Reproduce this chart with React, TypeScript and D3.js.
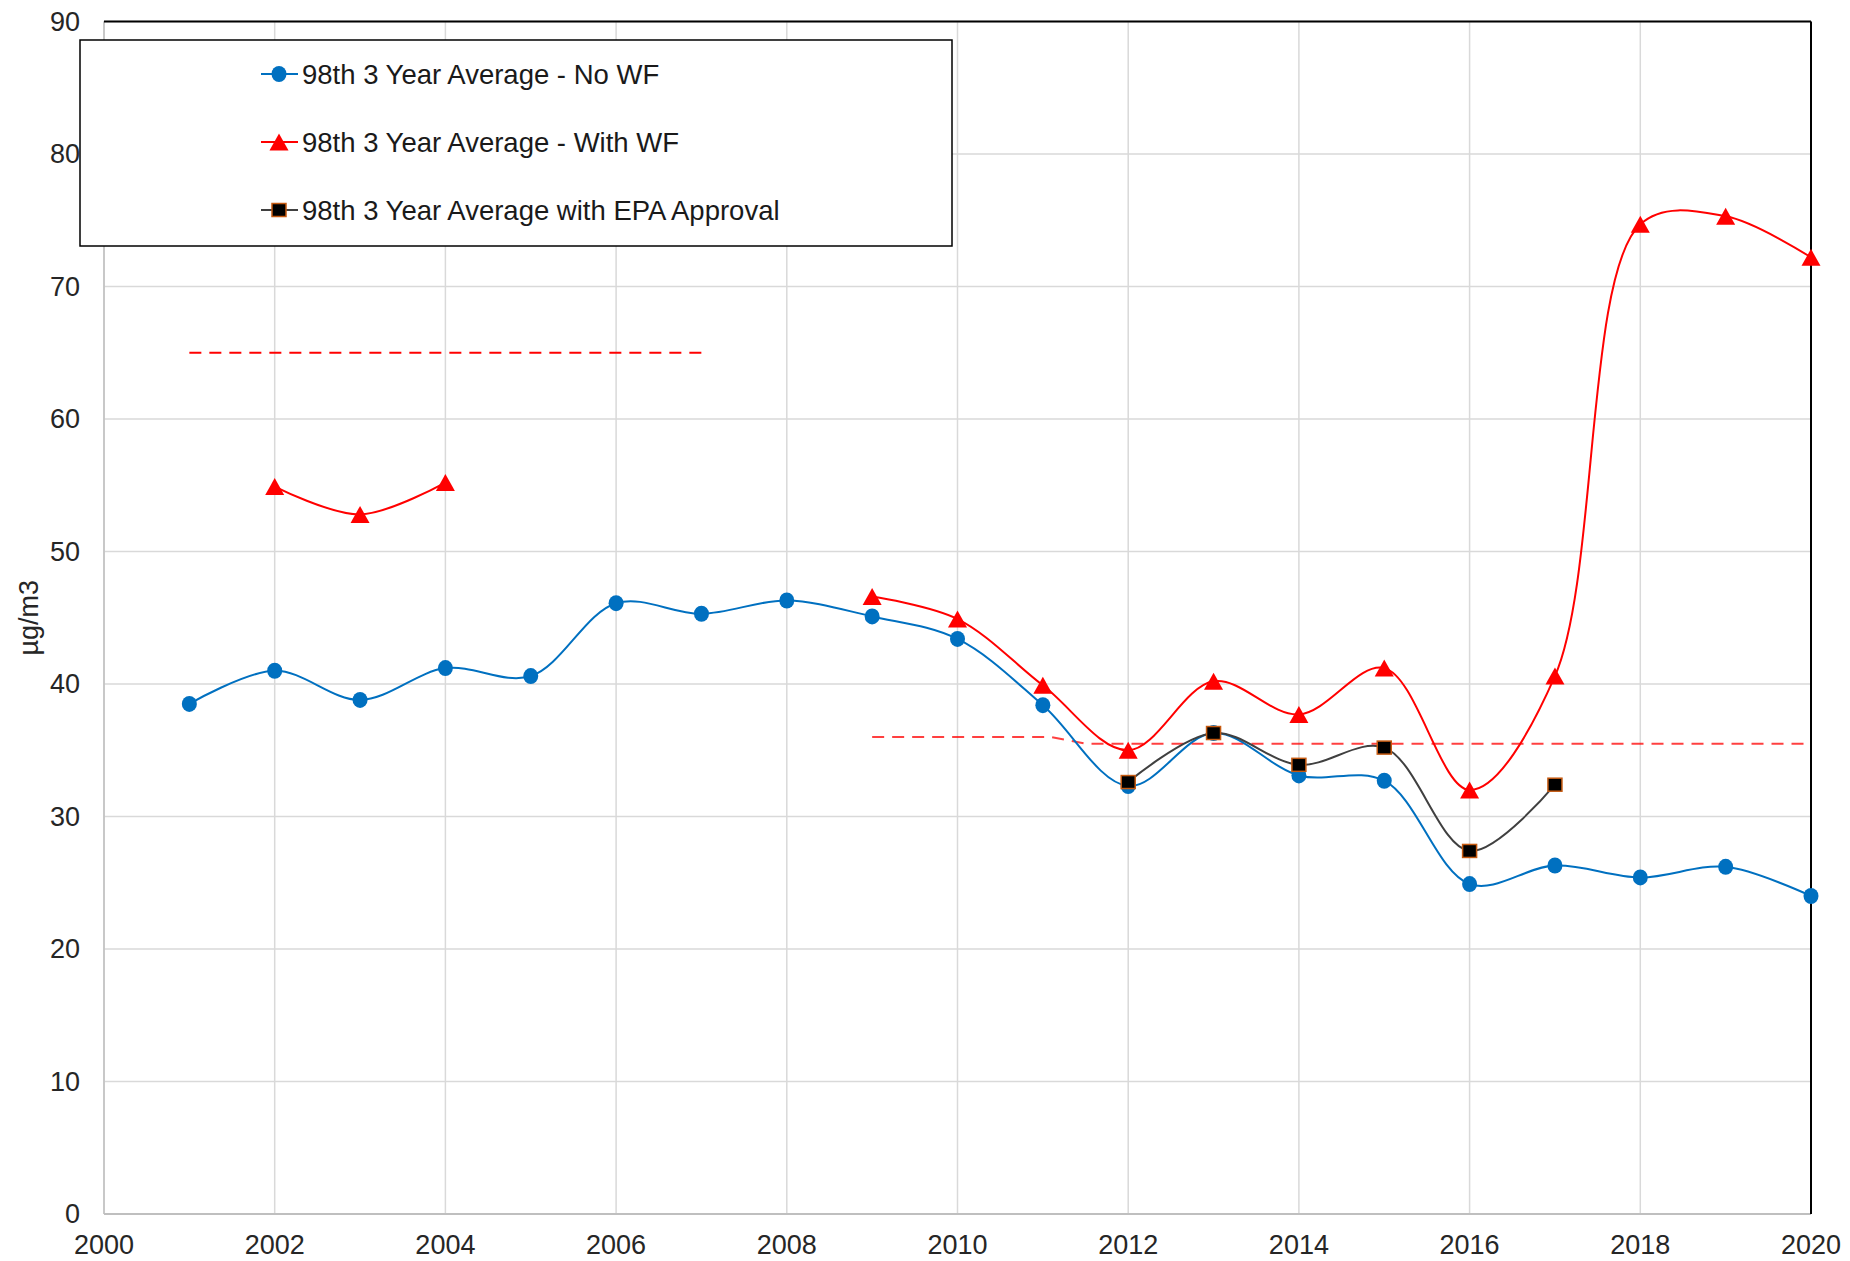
import React from "react";
import * as d3 from "d3";

const years = [2001, 2002, 2003, 2004, 2005, 2006, 2007, 2008, 2009, 2010, 2011, 2012, 2013, 2014, 2015, 2016, 2017, 2018, 2019, 2020];
const noWF = [38.5, 41.0, 38.8, 41.2, 40.6, 46.1, 45.3, 46.3, 45.1, 43.4, 38.4, 32.3, 36.3, 33.1, 32.7, 24.9, 26.3, 25.4, 26.2, 24.0];
const withWF: (number | null)[] = [null, 54.9, 52.8, 55.2, null, null, null, null, 46.6, 44.9, 39.9, 35.0, 40.2, 37.7, 41.2, 32.0, 40.6, 74.7, 75.3, 72.2];
const epaApproval: (number | null)[] = [null, null, null, null, null, null, null, null, null, null, null, 32.6, 36.3, 33.9, 35.2, 27.4, 32.4, null, null, null];

const std1X = [2001, 2007];
const std1Y = [65, 65];
const std2X = [2009, 2011.1, 2011.5, 2020];
const std2Y = [36, 36, 35.5, 35.5];

const xTicks = [2000, 2002, 2004, 2006, 2008, 2010, 2012, 2014, 2016, 2018, 2020];
const yTicks = [0, 10, 20, 30, 40, 50, 60, 70, 80, 90];

const legendLabels = [
  "98th 3 Year Average - No WF",
  "98th 3 Year Average - With WF",
  "98th 3 Year Average with EPA Approval",
];
const yTitle = "µg/m3";

const BLUE = "#0070c0";
const RED = "#ff0000";
const DARK = "#404040";
const FONT = "'Liberation Sans', Arial, sans-serif";

const W = 1850, H = 1261;
const L = 104, R = 1811, T = 21.5, B = 1214;

function triPath(w: number, h: number) {
  return `M0,${-h / 2}L${w / 2},${h / 2}L${-w / 2},${h / 2}Z`;
}

export default function App() {
  const x = d3.scaleLinear().domain([2000, 2020]).range([L, R]);
  const y = d3.scaleLinear().domain([0, 90]).range([B, T]);

  type P = { x: number; y: number | null };
  const mk = (xs: number[], ys: (number | null)[]): P[] => xs.map((v, i) => ({ x: v, y: ys[i] }));

  const smooth = d3
    .line<P>()
    .defined((d) => d.y != null)
    .x((d) => x(d.x))
    .y((d) => y(d.y as number))
    .curve(d3.curveCatmullRom.alpha(0.5));
  const straight = d3
    .line<P>()
    .x((d) => x(d.x))
    .y((d) => y(d.y as number));

  const blueData = mk(years, noWF);
  const redData = mk(years, withWF);
  const epaData = mk(years, epaApproval);

  const legendY = [74, 142, 210];
  const lx0 = 261, lx1 = 298, lmx = 279, ltx = 302;

  const marker = (kind: number, cx: number, cy: number, key: string) => {
    if (kind === 0) return <ellipse key={key} cx={cx} cy={cy} rx={7.5} ry={8} fill={BLUE} />;
    if (kind === 1) return <path key={key} d={triPath(19, 17)} transform={`translate(${cx},${cy})`} fill={RED} />;
    return <rect key={key} x={cx - 7} y={cy - 6.5} width={14} height={13} fill="#000" stroke="#c55a11" strokeWidth={1.5} />;
  };

  return (
    <svg width={W} height={H} style={{ position: "absolute", left: 0, top: 0, background: "#fff" }} fontFamily={FONT}>
      <rect x={0} y={0} width={W} height={H} fill="#fff" />
      {/* gridlines */}
      {yTicks.map((t) => (
        <line key={"gy" + t} x1={L} x2={R} y1={y(t)} y2={y(t)} stroke="#d9d9d9" strokeWidth={1.5} />
      ))}
      {xTicks.map((t) => (
        <line key={"gx" + t} x1={x(t)} x2={x(t)} y1={T} y2={B} stroke="#d9d9d9" strokeWidth={1.5} />
      ))}
      {/* axes */}
      <line x1={L} x2={L} y1={T} y2={B} stroke="#bfbfbf" strokeWidth={1.5} />
      <line x1={L} x2={R} y1={B} y2={B} stroke="#bfbfbf" strokeWidth={2} />
      <line x1={L} x2={R} y1={T} y2={T} stroke="#000" strokeWidth={2} />
      <line x1={R} x2={R} y1={T} y2={B} stroke="#000" strokeWidth={2} />

      {/* tick labels */}
      {yTicks.map((t) => (
        <text key={"ty" + t} x={80} y={y(t)} dy="0.35em" textAnchor="end" fontSize={27} fill="#262626">
          {t}
        </text>
      ))}
      {xTicks.map((t) => (
        <text key={"tx" + t} x={x(t)} y={1254} textAnchor="middle" fontSize={27} fill="#262626">
          {t}
        </text>
      ))}
      <text transform={`translate(38,${(T + B) / 2}) rotate(-90)`} textAnchor="middle" fontSize={27} fill="#262626">
        {yTitle}
      </text>

      {/* standard dashed lines */}
      <path d={straight(mk(std1X, std1Y)) || ""} fill="none" stroke={RED} strokeWidth={2} strokeDasharray="12 8" />
      <path d={straight(mk(std2X, std2Y)) || ""} fill="none" stroke={RED} strokeWidth={2} strokeDasharray="12 8" opacity={0.75} />

      {/* series lines */}
      <path d={smooth(blueData) || ""} fill="none" stroke={BLUE} strokeWidth={2} />
      <path d={smooth(redData) || ""} fill="none" stroke={RED} strokeWidth={2} />
      <path d={smooth(epaData) || ""} fill="none" stroke={DARK} strokeWidth={2} />

      {/* markers */}
      {blueData.map((d, i) => (d.y != null ? marker(0, x(d.x), y(d.y), "b" + i) : null))}
      {redData.map((d, i) => (d.y != null ? marker(1, x(d.x), y(d.y), "r" + i) : null))}
      {epaData.map((d, i) => (d.y != null ? marker(2, x(d.x), y(d.y), "k" + i) : null))}

      {/* legend */}
      <rect x={80} y={40} width={872} height={206} fill="#fff" stroke="#000" strokeWidth={1.5} />
      {legendLabels.map((lab, i) => (
        <g key={"lg" + i}>
          <line x1={lx0} x2={lx1} y1={legendY[i]} y2={legendY[i]} stroke={[BLUE, RED, DARK][i]} strokeWidth={2} />
          {marker(i, lmx, legendY[i], "lm" + i)}
          <text x={ltx} y={legendY[i]} dy="0.35em" fontSize={27.5} fill="#1a1a1a">
            {lab}
          </text>
        </g>
      ))}
    </svg>
  );
}
